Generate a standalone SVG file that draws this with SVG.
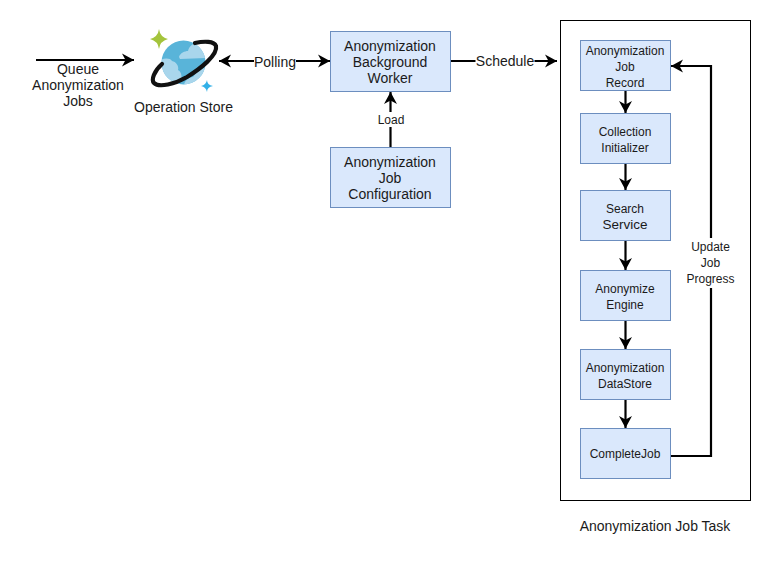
<svg xmlns="http://www.w3.org/2000/svg" width="771" height="570" viewBox="0 0 771 570">
<defs>
<marker id="a" markerUnits="userSpaceOnUse" markerWidth="16" markerHeight="16" refX="12" refY="8" orient="auto-start-reverse"><path d="M0 1.500L12 8L0 14.500L3.500 8Z" fill="#000"/></marker>
<clipPath id="globe"><circle cx="183.500" cy="62.500" r="22"/></clipPath>
</defs>
<style>
text{font-family:"Liberation Sans",Arial,sans-serif;fill:#1a1a1a;text-anchor:middle}
.n rect{fill:#dae8fc;stroke:#6c8ebf;stroke-width:1}
.b text{font-size:14px}
.s text{font-size:12px}
.c{fill:none;stroke:#000;stroke-width:2.200;marker-end:url(#a)}
.l{font-size:14px}
</style>
<rect width="771" height="570" fill="#fff"/>
<rect id="container" x="560.500" y="20.500" width="190" height="480" fill="#fff" stroke="#000"/>
<g id="connectors">
<path class="c" d="M36 60H134"/>
<path class="c" style="marker-start:url(#a)" d="M219 61H330"/>
<path class="c" d="M451 61H557"/>
<path class="c" d="M390.500 147V92"/>
<path class="c" d="M625.500 91V113"/>
<path class="c" d="M625.500 164V190"/>
<path class="c" d="M625.500 241V270"/>
<path class="c" d="M625.500 320V349"/>
<path class="c" d="M625.500 400V428"/>
<path class="c" d="M671 456H711V66H671"/>
<g>
<rect x="254" y="53" width="42" height="17" fill="#fff"/><text class="l" x="275" y="67">Polling</text>
<rect x="475.500" y="52" width="59" height="17" fill="#fff"/><text class="l" x="505" y="66">Schedule</text>
<rect x="376" y="112" width="30" height="15" fill="#fff"/><text x="391" y="124" font-size="12">Load</text>
<rect x="686" y="238" width="50" height="50" fill="#fff"/>
<text x="710.500" y="251" font-size="12">Update</text><text x="710.500" y="267" font-size="12">Job</text><text x="710.500" y="283" font-size="12">Progress</text>
</g>
</g>
<g id="queue"><text class="l" x="78" y="74">Queue</text><text class="l" x="78" y="90">Anonymization</text><text class="l" x="78" y="106">Jobs</text></g>
<g id="operation-store">
<circle cx="183.500" cy="62.500" r="22" fill="#59b4d9"/>
<g clip-path="url(#globe)" fill="#a9d6ec">
<path d="M179 57C180 53 185 51 188 51C189 46 194 42 200 42L210 50L206 58L180 59Z"/>
<path d="M160 60C165 58 170 58 172 61C177 62 179 67 178 70C182 72 182 78 181 81L176 88L155 75Z"/>
<path d="M184 86C184 81 189 77 193 77C196 72 201 69 206 67L208 88Z"/>
</g>
<path d="M162 64C154 71 151 80 154 83C159 88 175 84 187 77C200 69 218 55 216 46C214 41 204 41 195 43" fill="none" stroke="#111" stroke-width="4.200" stroke-linecap="round"/>
<path d="M159 29Q160 37 168 39Q160 41 159 49Q158 41 150 39Q158 37 159 29Z" fill="#a4c43c"/>
<path d="M207 80Q207 85 213 86Q207 87 207 92Q206 87 201 86Q206 85 207 80Z" fill="#32b0e7"/>
<text x="183.500" y="112" font-size="14">Operation Store</text>
</g>
<g id="background-worker" class="n b"><rect x="330.500" y="31.500" width="120" height="60"/><text x="390" y="51">Anonymization</text><text x="390" y="67">Background</text><text x="390" y="83">Worker</text></g>
<g id="job-configuration" class="n b"><rect x="330.500" y="147.500" width="120" height="60"/><text x="390" y="167">Anonymization</text><text x="390" y="183">Job</text><text x="390" y="199">Configuration</text></g>
<g id="job-record" class="n s"><rect x="580.500" y="40.500" width="90" height="50"/><text x="625" y="55">Anonymization</text><text x="625" y="71">Job</text><text x="625" y="87">Record</text></g>
<g id="collection-initializer" class="n s"><rect x="580.500" y="113.500" width="90" height="50"/><text x="625" y="136">Collection</text><text x="625" y="152">Initializer</text></g>
<g id="search-service" class="n s"><rect x="580.500" y="190.500" width="90" height="50"/><text x="625" y="213">Search</text><text x="625" y="229" style="font-size:13.500px">Service</text></g>
<g id="anonymize-engine" class="n s"><rect x="580.500" y="270.500" width="90" height="50"/><text x="625" y="293">Anonymize</text><text x="625" y="309">Engine</text></g>
<g id="anonymization-datastore" class="n s"><rect x="580.500" y="349.500" width="90" height="50"/><text x="625" y="372">Anonymization</text><text x="625" y="388">DataStore</text></g>
<g id="complete-job" class="n s"><rect x="580.500" y="428.500" width="90" height="50"/><text x="625" y="458">CompleteJob</text></g>
<text x="655" y="531" font-size="14">Anonymization Job Task</text>
</svg>
